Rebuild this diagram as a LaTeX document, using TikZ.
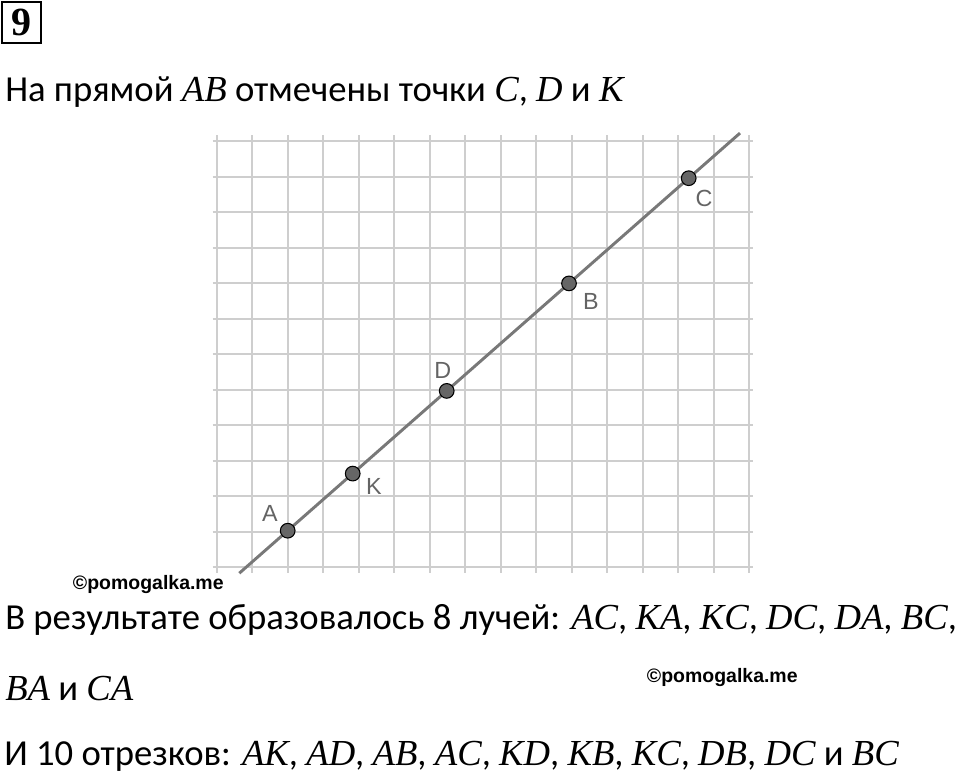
\documentclass[tikz,border=0pt]{standalone}
\usepackage{fontspec}
\setmainfont{Carlito}
\newfontfamily\labelfont{Liberation Sans}
\newfontfamily\boxfont{Liberation Serif}
\newfontfamily\letterfont{Liberation Serif}
\newcommand{\pl}[1]{{\letterfont\itshape #1}}
\usepackage{tikz}
\usetikzlibrary{calc}
\RequirePackage{xcolor}
\definecolor{gridgray}{RGB}{206,206,206}
\definecolor{linegray}{RGB}{120,120,120}
\definecolor{ptgray}{RGB}{102,102,102}
\definecolor{lblgray}{RGB}{100,100,100}

\tikzset{
  gridline/.style={color=gridgray, line width=1.3pt},
  rayline/.style={color=linegray, line width=2.2pt},
  pnt/.style={circle, fill=ptgray, draw=black, line width=0.8pt, inner sep=0pt, minimum size=11pt},
  ptlabel/.style={inner sep=0pt, text=lblgray, font=\labelfont\fontsize{17.5}{20}\selectfont},
  maintext/.style={anchor=base west, inner sep=0pt, font=\fontsize{27.5}{32}\selectfont},
  wmark/.style={anchor=base west, inner sep=0pt, font=\labelfont\bfseries\fontsize{14.6}{17}\selectfont}
}

\begin{document}
\begin{tikzpicture}[x=0.75pt,y=0.75pt,yscale=-1,xscale=1]
\useasboundingbox (0,0) rectangle (960,776);

%Shape: Number Box
\node [draw, line width=1.5pt, inner sep=0pt, minimum width=29.2pt, minimum height=31.2pt, font=\boxfont\bfseries\fontsize{30}{32}\selectfont] (num) at (21.2,22.5) {9};

%Shape: Grid
\foreach \i in {0,...,15}
  \draw [gridline] (216.7+35.5*\i,135) -- (216.7+35.5*\i,573);
\foreach \j in {0,...,12}
  \draw [gridline] (212.5,567.3-35.5*\j) -- (753,567.3-35.5*\j);

%Straight Lines
\coordinate (lineS) at (239.3,573.2);
\coordinate (lineE) at (740,133.1);
\draw [rayline] (lineS) -- (lineE);

%Points
\node [pnt] (A) at (287.7,530.7) {};
\node [pnt] (K) at (352.7,473.6) {};
\node [pnt] (D) at (446.7,390.9) {};
\node [pnt] (B) at (569,283.4) {};
\node [pnt] (C) at (688.7,178.2) {};

% Text Node
\node [ptlabel] (lA) at (270,513.3) {A};
% Text Node
\node [ptlabel] (lK) at (374,486.7) {K};
% Text Node
\node [ptlabel] (lD) at (442.7,370.7) {D};
% Text Node
\node [ptlabel] (lB) at (591,301.7) {B};
% Text Node
\node [ptlabel] (lC) at (704,198.3) {C};

% Text Node
\node [maintext] (t1) at (5,101.7) {На прямой \pl{AB} отмечены точки \pl{C}, \pl{D} и \pl{K}};
% Text Node
\node [maintext] (t2) at (5,629.3) {В результате образовалось 8 лучей: \pl{AC}, \pl{KA}, \pl{KC}, \pl{DC}, \pl{DA}, \pl{BC},};
% Text Node
\node [maintext] (t3) at (5,700) {\pl{BA} и \pl{CA}};
% Text Node
\node [maintext] (t4) at (4,765) {И 10 отрезков: \pl{AK}, \pl{AD}, \pl{AB}, \pl{AC}, \pl{KD}, \pl{KB}, \pl{KC}, \pl{DB}, \pl{DC} и \pl{BC}};

% Text Node
\node [wmark] (w1) at (72.7,589) {©pomogalka.me};
% Text Node
\node [wmark] (w2) at (646.7,682.7) {©pomogalka.me};

\end{tikzpicture}
\end{document}
